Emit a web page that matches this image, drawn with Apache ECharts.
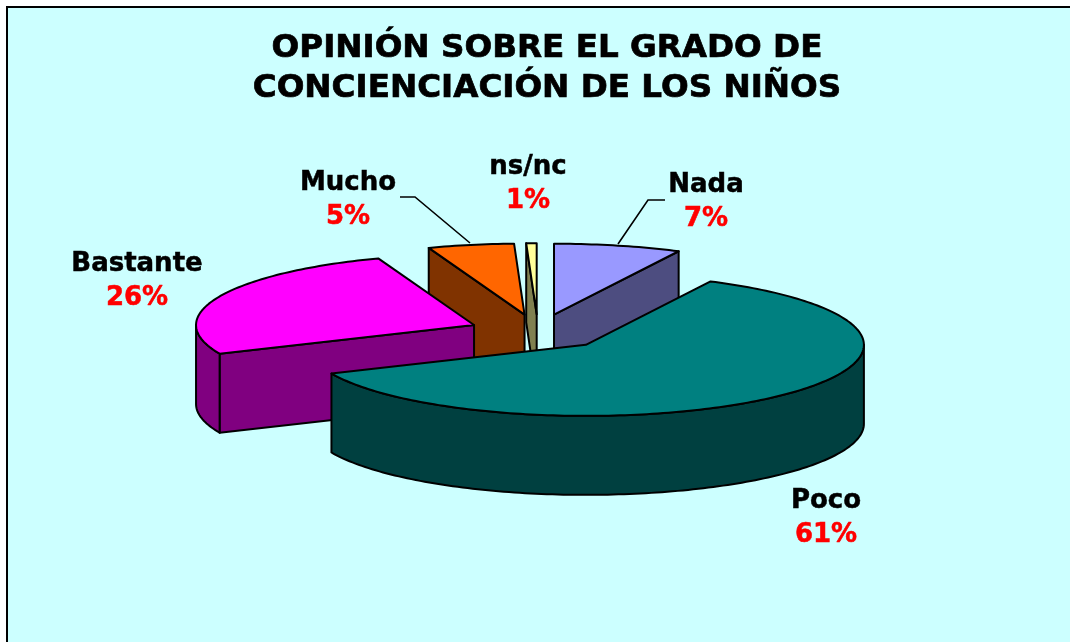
<!DOCTYPE html>
<html>
<head>
<meta charset="utf-8">
<style>html,body{margin:0;padding:0;background:#fff}#c{width:1070px;height:642px}</style>
<script src="https://cdn.jsdelivr.net/npm/echarts@6/dist/echarts.min.js"></script>
</head>
<body>
<div id="c"></div>
<script>
const categories = ['Nada', 'Poco', 'Bastante', 'Mucho', 'ns/nc'];
const values = [7.4, 61, 26, 5, 0.6];
const topColors = ['#9999FF', '#008080', '#FF00FF', '#FF6600', '#FFFF99'];
const sideColors = ['#4D4D80', '#004040', '#800080', '#803300', '#808050'];
const titleText = 'OPINIÓN SOBRE EL GRADO DE\nCONCIENCIACIÓN DE LOS NIÑOS';

// 3D pie projection
const CX = 538, CY = 332, RX = 278, RY = 71, DEPTH = 79, EXPLODE = 0.25;
// label centres and leader lines, per category
const labelCentres = [[706, 202], [826, 518], [137, 281], [348, 200], [528, 184]];
const leaders = [[[665, 200], [648, 200], [618, 244]], null, null, [[400, 197], [415, 197], [470, 243]], null];

const total = values.reduce((a, b) => a + b, 0);
const spans = [];
values.reduce((acc, v) => {
  const next = acc + v / total * Math.PI * 2;
  spans.push([acc, next]);
  return next;
}, 0);

function renderSlice(params, api) {
  const i = api.value(0);
  const [t1, t2] = spans[i];
  const mid = (t1 + t2) / 2;
  const ax = CX + EXPLODE * RX * Math.sin(mid);
  const ay = CY - EXPLODE * RY * Math.cos(mid);
  const pt = t => [ax + RX * Math.sin(t), ay - RY * Math.cos(t)];
  const down = p => [p[0], p[1] + DEPTH];
  const arc = (a, b) => {
    const n = Math.max(2, Math.ceil((b - a) / 0.02));
    const out = [];
    for (let k = 0; k <= n; k++) out.push(pt(a + (b - a) * k / n));
    return out;
  };
  const z2 = Math.round(-Math.cos(mid) * 100) + 200;
  const lineStyle = { stroke: '#000', lineWidth: 2, lineJoin: 'round' };
  const poly = (points, fill, z) => ({
    type: 'polygon', z2: z, shape: { points },
    style: Object.assign({ fill }, lineStyle)
  });
  const children = [];
  const side = sideColors[i];
  const p1 = pt(t1), p2 = pt(t2), apex = [ax, ay];
  // cut faces: only those whose outward normal points towards the viewer
  if (p1[0] - ax < -0.5) {
    children.push(poly([apex, p1, down(p1), down(apex)], side, z2));
  }
  if (p2[0] - ax > 0.5) {
    children.push(poly([apex, p2, down(p2), down(apex)], side, z2));
  }
  // outer wall on the front half of the ellipse
  const a = Math.max(t1, Math.PI / 2), b = Math.min(t2, Math.PI * 1.5);
  if (b > a) {
    const top = arc(a, b);
    children.push(poly(top.concat(top.slice().reverse().map(down)), side, z2));
  }
  // top face
  children.push(poly([apex].concat(arc(t1, t2)), topColors[i], z2 + 1));
  return { type: 'group', children };
}

function renderLabel(params, api) {
  const i = api.value(0);
  const [x, y] = labelCentres[i];
  const children = [{
    type: 'text', z2: 500,
    style: {
      x, y, align: 'center', verticalAlign: 'middle',
      text: '{n|' + categories[i] + '}\n{v|' + Math.round(values[i]) + '%}',
      rich: {
        n: { fontFamily: 'DejaVu Sans', fontWeight: 'bold', fontSize: 26, fill: '#000', lineHeight: 34, align: 'center', stroke: '#000', lineWidth: 0.5 },
        v: { fontFamily: 'DejaVu Sans', fontWeight: 'bold', fontSize: 26, fill: '#FF0000', lineHeight: 34, align: 'center', stroke: '#FF0000', lineWidth: 0.5 }
      }
    }
  }];
  if (leaders[i]) {
    children.push({
      type: 'polyline', z2: 500, shape: { points: leaders[i] },
      style: { stroke: '#000', lineWidth: 1.6, fill: null }
    });
  }
  return { type: 'group', children };
}

const chart = echarts.init(document.getElementById('c'), null, { renderer: 'canvas' });
chart.setOption({
  animation: false,
  backgroundColor: '#FFFFFF',
  title: {
    text: titleText, left: 542, top: 24, textAlign: 'center',
    textStyle: { fontFamily: 'DejaVu Sans', fontWeight: 'bold', fontSize: 32.6, lineHeight: 40, color: '#000',
      textBorderColor: '#000', textBorderWidth: 0.7 }
  },
  graphic: [
    { type: 'rect', z: -1, shape: { x: 7, y: 7, width: 1080, height: 660 },
      style: { fill: '#CCFFFF', stroke: '#000', lineWidth: 2 } }
  ],
  series: [
    { type: 'custom', coordinateSystem: 'none', renderItem: renderSlice, silent: true,
      data: categories.map((c, i) => [i, values[i]]), z: 3 },
    { type: 'custom', coordinateSystem: 'none', renderItem: renderLabel, silent: true,
      data: categories.map((c, i) => [i, values[i]]), z: 4 }
  ]
});
</script>
</body>
</html>
